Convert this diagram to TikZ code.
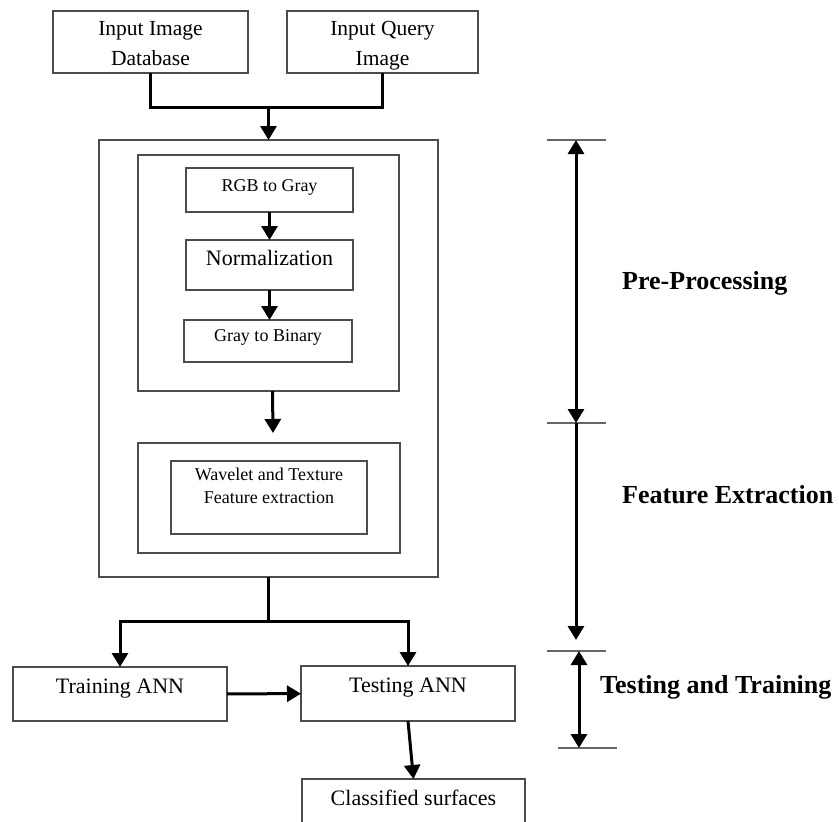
\documentclass[tikz,border=0pt]{standalone}
\usepackage{fontspec}
\setmainfont{Liberation Serif}
\usetikzlibrary{arrows.meta}

\begin{document}
\begin{tikzpicture}[
            x=1pt, y=-1pt,
            >={Triangle[length=14pt,width=16pt]},
            box/.style={draw=black!70, line width=1.4pt, rectangle, inner sep=0pt, outer sep=0pt, align=center, font=\fontsize{22}{30}\selectfont},
            small/.style={font=\fontsize{18}{23}\selectfont},
            frame/.style={draw=black!70, line width=1.4pt, rectangle, inner sep=0pt, outer sep=0pt},
            wire/.style={line width=3pt},
            tick/.style={draw=black!60, line width=1.5pt},
            tag/.style={anchor=west, inner sep=0pt, font=\bfseries\fontsize{26}{30}\selectfont},
    ]
    \useasboundingbox (0,0) rectangle (839,822);

    \node[box, anchor=north, minimum width=195pt, text height=54pt, text depth=8pt, font=\fontsize{21.5}{30}\selectfont] (db) at (150.5,11) {Input Image\\Database};
    \node[box, anchor=north, minimum width=191pt, text height=54pt, text depth=8pt, font=\fontsize{21.5}{30}\selectfont] (query) at (382.5,11) {Input Query\\Image};

    \node[frame, minimum width=339pt, minimum height=437pt] (outer) at (268.5,358.5) {};
    \node[frame, minimum width=261pt, minimum height=236pt] (pre) at (268.5,273) {};
    \node[frame, minimum width=262pt, minimum height=110pt] (feat) at (269,498) {};

    \node[box, small, anchor=north, minimum width=167pt, text height=23pt, text depth=21pt] (rgb) at (269.5,168) {RGB to Gray};
    \node[box, anchor=north, minimum width=167pt, text height=25pt, text depth=25pt] (norm) at (269.5,240) {Normalization};
    \node[box, small, anchor=north, minimum width=168pt, text height=21pt, text depth=21pt] (gray) at (268,320) {Gray to Binary};
    \node[box, small, anchor=north, minimum width=196pt, text height=42.5pt, text depth=30.5pt] (wave) at (269,461) {Wavelet and Texture\\Feature extraction};

    \node[box, anchor=north, minimum width=214pt, text height=26pt, text depth=28pt] (train) at (120,667) {Training ANN};
    \node[box, anchor=north, minimum width=214pt, text height=26pt, text depth=29pt] (test) at (408,666) {Testing ANN};
    \node[box, anchor=north, minimum width=223pt, text height=26pt, text depth=40pt] (cls) at (413.5,779) {Classified surfaces};

    \coordinate (merge) at (268.5,107);
    \coordinate (split) at (268.5,621);

    \draw[wire] (db.south) |- (merge) -| (query.south);
    \draw[wire,->] (merge) -- (outer.north);
    \draw[wire,->] (rgb) -- (norm);
    \draw[wire,->] (norm) -- (norm.south |- gray.north);
    \draw[wire,->] ([xshift=4pt]pre.south) -- ([xshift=4.5pt,yshift=10pt]pre.south |- feat.north);
    \draw[wire] (outer.south) -- (split);
    \draw[wire,->] (split) -| (train.north);
    \draw[wire,->] (split) -| (test.north);
    \draw[wire,->] (train) -- (test);
    \draw[wire,->] (test.south) -- (cls.north);

    \draw[tick] (547,140) -- (606,140);
    \draw[tick] (547,423) -- (606,423);
    \draw[tick] (547,651) -- (606,651);
    \draw[tick] (558,748) -- (617,748);

    \coordinate (s1) at (576,140);
    \coordinate (s2) at (576,423);
    \coordinate (s3) at (576,640);
    \coordinate (s4) at (579,651);
    \coordinate (s5) at (579,748);

    \draw[wire,<->] (s1) -- (s2);
    \draw[wire,->] (s2) -- (s3);
    \draw[wire,<->] (s4) -- (s5);

    \node[tag] (pptag) at (622,283) {Pre-Processing};
    \node[tag] (fetag) at (622,495) {Feature Extraction};
    \node[tag] (tttag) at (600,687) {Testing and Training};
    \end{tikzpicture}
\end{document}
